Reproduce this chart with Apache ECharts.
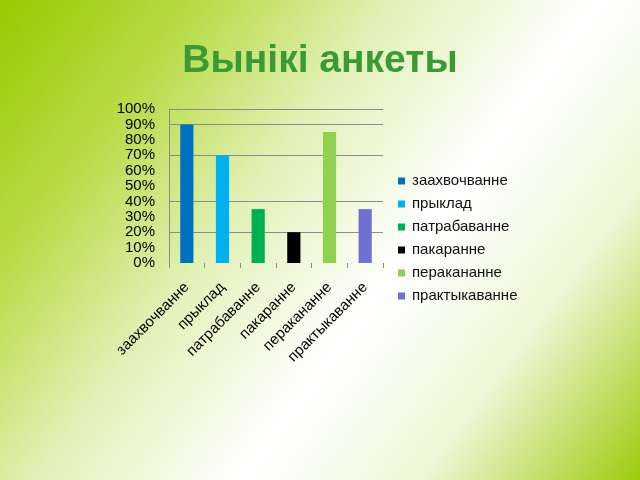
<!DOCTYPE html>
<html lang="be">
<head>
<meta charset="UTF-8">
<title>Вынікі анкеты</title>
<script src="https://cdn.jsdelivr.net/npm/echarts@6/dist/echarts.min.js"></script>
<style>
  html, body { margin: 0; padding: 0; }
  #chart { width: 640px; height: 480px; }
</style>
</head>
<body>
<div id="chart"></div>
<script>
// дадзеныя з малюнка
var categories = ['заахвочванне', 'прыклад', 'патрабаванне', 'пакаранне', 'перакананне', 'практыкаванне'];
var values = [90, 70, 35, 20, 85, 35];
var yTicks = [0, 10, 20, 30, 40, 50, 60, 70, 80, 90, 100];

var barColors = ['#0070c0', '#00b0f0', '#00b050', '#000000', '#92d050', '#7070d0'];
var fontFamily = '"Liberation Sans", Arial, sans-serif';

// на арыгінале бачныя толькі некаторыя лініі сеткі
var shownGrid = [20, 40, 70, 90, 100];
var gridColors = yTicks.map(function (t) {
  return shownGrid.indexOf(t) >= 0 ? '#8c8c8c' : 'rgba(0,0,0,0)';
});

// кожная катэгорыя — асобная серыя, каб легенда паказвала ўсе слупкі
var series = categories.map(function (name, i) {
  var data = categories.map(function (c, j) { return j === i ? values[i] : null; });
  return {
    name: name,
    type: 'bar',
    data: data,
    barWidth: '37%',
    barGap: '-100%',
    itemStyle: { color: barColors[i] }
  };
});

var chart = echarts.init(document.getElementById('chart'));
var option = {
  backgroundColor: {
    type: 'linear', x: 0, y: 0, x2: 1, y2: 1,
    colorStops: [
      { offset: 0, color: '#96ca00' },
      { offset: 0.2, color: '#b7db45' },
      { offset: 0.4, color: '#e3f1b9' },
      { offset: 0.6, color: '#ffffff' },
      { offset: 0.78, color: '#eef7d6' },
      { offset: 1, color: '#9ccb0e' }
    ]
  },
  animation: false,
  title: {
    text: 'Вынікі анкеты',
    left: 'center',
    top: 37,
    textStyle: {
      fontFamily: fontFamily,
      fontSize: 39,
      fontWeight: 'bold',
      color: '#3a9b36'
    }
  },
  legend: {
    orient: 'vertical',
    left: 398,
    top: 172,
    padding: 0,
    icon: 'rect',
    itemWidth: 7,
    itemHeight: 7,
    itemGap: 5,
    data: categories,
    textStyle: {
      fontFamily: fontFamily,
      fontSize: 15,
      lineHeight: 18,
      color: '#111',
      padding: [0, 0, 0, 2]
    }
  },
  grid: {
    left: 169,
    right: 257,
    top: 109,
    bottom: 217
  },
  xAxis: {
    type: 'category',
    data: categories,
    axisLine: { show: false },
    axisTick: {
      show: true,
      length: 5,
      lineStyle: { color: '#8c8c8c' }
    },
    axisLabel: {
      rotate: 45,
      margin: 22,
      fontFamily: fontFamily,
      fontSize: 15,
      color: '#000'
    }
  },
  yAxis: {
    type: 'value',
    min: 0,
    max: 100,
    interval: 10,
    axisLine: { show: true, lineStyle: { color: '#8c8c8c' } },
    axisTick: { show: false },
    axisLabel: {
      margin: 14,
      fontFamily: fontFamily,
      fontSize: 15,
      color: '#000',
      formatter: '{value}%'
    },
    splitLine: {
      show: true,
      lineStyle: { color: gridColors, width: 1 }
    }
  },
  series: series
};
chart.setOption(option);
</script>
</body>
</html>
